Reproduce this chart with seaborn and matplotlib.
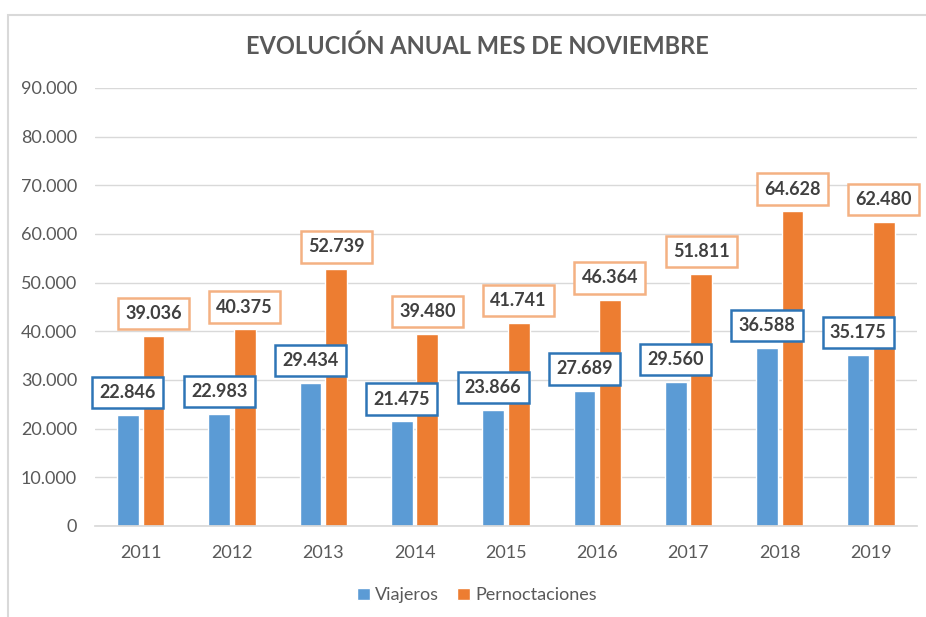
import pandas as pd
import matplotlib.pyplot as plt
import seaborn as sns
from matplotlib.patches import Rectangle

# Datos
years = ['2011', '2012', '2013', '2014', '2015', '2016', '2017', '2018', '2019']
viajeros = [22846, 22983, 29434, 21475, 23866, 27689, 29560, 36588, 35175]
pernoctaciones = [39036, 40375, 52739, 39480, 41741, 46364, 51811, 64628, 62480]

df = pd.DataFrame({
    'Año': years * 2,
    'Valor': viajeros + pernoctaciones,
    'Serie': ['Viajeros'] * len(years) + ['Pernoctaciones'] * len(years),
})

sns.set_theme(style="white")
plt.rcParams['font.family'] = ['Lato', 'DejaVu Sans']

colores = {'Viajeros': '#5b9bd5', 'Pernoctaciones': '#ed7d31'}
bordes = {'Viajeros': '#2e75b6', 'Pernoctaciones': '#f4b183'}

fig = plt.figure(figsize=(9.26, 6.17), dpi=100)
ax = fig.add_axes([0.1026, 0.1475, 0.8874, 0.7099])

# marco gris del gráfico
fig.patches.append(Rectangle((8 / 926, -0.1), 1.1, 1 - 15 / 617 + 0.1,
                             transform=fig.transFigure, fill=False,
                             edgecolor='#d9d9d9', linewidth=1.5))

sns.barplot(data=df, x='Año', y='Valor', hue='Serie', palette=colores,
            width=0.56, gap=0.15, saturation=1, ax=ax, legend=True)

ax.set_ylim(0, 90000)
ax.set_yticks(range(0, 90001, 10000))
ax.set_yticklabels(['0'] + [f"{v:,}".replace(',', '.') for v in range(10000, 90001, 10000)])
ax.yaxis.grid(True, color='#d9d9d9', linewidth=1)
ax.set_axisbelow(True)
for s in ['top', 'right', 'left']:
    ax.spines[s].set_visible(False)
ax.spines['bottom'].set_color('#d9d9d9')
ax.tick_params(axis='both', colors='#595959', labelsize=13, length=0)
ax.tick_params(axis='y', pad=13)
ax.tick_params(axis='x', pad=14)
ax.set_xlabel('')
ax.set_ylabel('')

# etiquetas con recuadro
for cont, serie in zip(ax.containers, ['Viajeros', 'Pernoctaciones']):
    for bar in cont:
        h = bar.get_height()
        ax.annotate(f"{int(h):,}".replace(',', '.'),
                    (bar.get_x() + bar.get_width() / 2, h),
                    xytext=(0, 10), textcoords='offset points',
                    ha='center', va='bottom', fontsize=13, fontweight='bold',
                    color='#404040',
                    bbox=dict(boxstyle='square,pad=0.4', facecolor='white',
                              edgecolor=bordes[serie], linewidth=1.8))

fig.text(0.516, 0.925, 'EVOLUCIÓN ANUAL MES DE NOVIEMBRE', ha='center', va='center',
         fontsize=17, fontweight='bold', color='#595959')

ax.legend(loc='center', bbox_to_anchor=(0.465, -0.158), ncol=2, frameon=False,
          fontsize=13, handlelength=0.7, handleheight=0.7, handletextpad=0.3,
          columnspacing=1.0, labelcolor='#595959')

plt.savefig('out.png', dpi=100)
